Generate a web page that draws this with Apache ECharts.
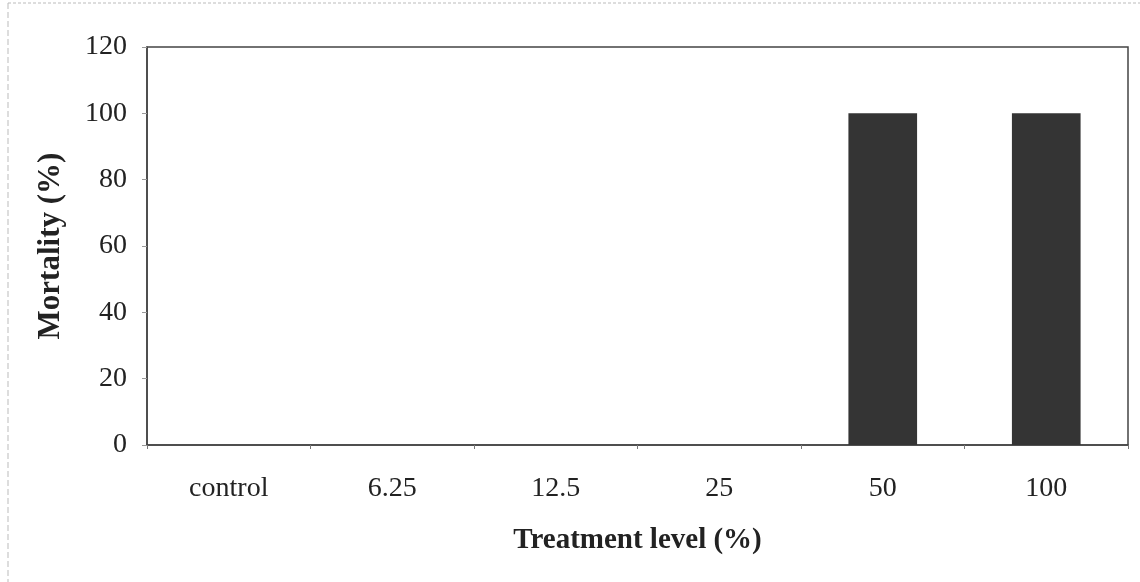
<!DOCTYPE html>
<html>
<head>
<meta charset="utf-8">
<script src="https://cdn.jsdelivr.net/npm/echarts@6/dist/echarts.min.js"></script>
<style>
  html, body { margin: 0; padding: 0; background: #fff; }
  #chart { width: 1140px; height: 582px; }
</style>
</head>
<body>
<div id="chart"></div>
<script>
// Treatment levels and observed mortality
const categories = ['control', '6.25', '12.5', '25', '50', '100'];
const mortality = [0, 0, 0, 0, 100, 100];
const yTicks = [0, 20, 40, 60, 80, 100, 120];

const serif = '"Liberation Serif", "DejaVu Serif", serif';
const chart = echarts.init(document.getElementById('chart'));

chart.setOption({
  backgroundColor: '#ffffff',
  animation: false,
  grid: { left: 147, right: 12, top: 47, bottom: 137, show: true, borderColor: '#444', borderWidth: 1.5, backgroundColor: 'transparent' },
  graphic: [
    { type: 'line', shape: { x1: 8, y1: 3, x2: 1140, y2: 3 }, style: { stroke: '#bbb', lineWidth: 1, lineDash: [3, 2] } },
    { type: 'line', shape: { x1: 8, y1: 3, x2: 8, y2: 582 }, style: { stroke: '#bbb', lineWidth: 1, lineDash: [6, 3] } }
  ],
  xAxis: {
    type: 'category',
    data: categories,
    name: 'Treatment level (%)',
    nameLocation: 'middle',
    nameGap: 81,
    nameTextStyle: { fontFamily: serif, fontSize: 29, fontWeight: 'bold', color: '#222' },
    axisLine: { lineStyle: { color: '#444', width: 1.5 } },
    axisTick: { show: true, inside: false, length: 4, alignWithLabel: false, lineStyle: { color: '#777' } },
    axisLabel: { fontFamily: serif, fontSize: 28, color: '#222', margin: 30 }
  },
  yAxis: {
    type: 'value',
    min: 0,
    max: 120,
    interval: 20,
    name: 'Mortality (%)',
    nameLocation: 'middle',
    nameGap: 81,
    nameRotate: 90,
    nameTextStyle: { fontFamily: serif, fontSize: 31, fontWeight: 'bold', color: '#222' },
    axisLine: { show: true, lineStyle: { color: '#444', width: 1.5 } },
    axisTick: { show: true, length: 5, lineStyle: { color: '#999' } },
    splitLine: { show: false },
    axisLabel: {
      fontFamily: serif, fontSize: 28, color: '#222', margin: 20,
      formatter: v => (yTicks.includes(v) ? String(v) : '')
    }
  },
  series: [{
    type: 'bar',
    data: mortality,
    barWidth: '42%',
    itemStyle: { color: '#343434' }
  }]
});
</script>
</body>
</html>
